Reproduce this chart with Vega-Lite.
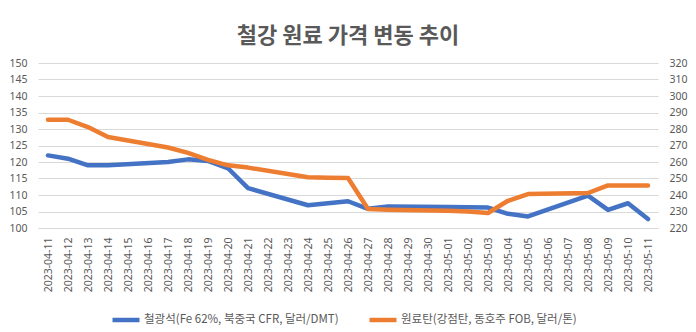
{
  "$schema": "https://vega.github.io/schema/vega-lite/v6.json",
  "width": 620,
  "height": 165,
  "autosize": {"type": "none"},
  "padding": {"left": 38, "top": 63, "right": 38, "bottom": 104},
  "background": "white",
  "title": {"text": "철강 원료 가격 변동 추이", "font": "Noto Sans CJK KR", "fontSize": 22, "fontWeight": "bold", "color": "#595959", "anchor": "middle", "offset": 10},
  "config": {"view": {"stroke": null}},
  "datasets": {
    "prices": [
      {"date": "2023-04-11", "series": "철광석(Fe 62%, 북중국 CFR, 달러/DMT)", "value": 122.0},
      {"date": "2023-04-12", "series": "철광석(Fe 62%, 북중국 CFR, 달러/DMT)", "value": 121.0},
      {"date": "2023-04-13", "series": "철광석(Fe 62%, 북중국 CFR, 달러/DMT)", "value": 119.0},
      {"date": "2023-04-14", "series": "철광석(Fe 62%, 북중국 CFR, 달러/DMT)", "value": 119.0},
      {"date": "2023-04-17", "series": "철광석(Fe 62%, 북중국 CFR, 달러/DMT)", "value": 120.0},
      {"date": "2023-04-18", "series": "철광석(Fe 62%, 북중국 CFR, 달러/DMT)", "value": 120.8},
      {"date": "2023-04-19", "series": "철광석(Fe 62%, 북중국 CFR, 달러/DMT)", "value": 120.3},
      {"date": "2023-04-20", "series": "철광석(Fe 62%, 북중국 CFR, 달러/DMT)", "value": 118.1},
      {"date": "2023-04-21", "series": "철광석(Fe 62%, 북중국 CFR, 달러/DMT)", "value": 112.1},
      {"date": "2023-04-24", "series": "철광석(Fe 62%, 북중국 CFR, 달러/DMT)", "value": 106.9},
      {"date": "2023-04-25", "series": "철광석(Fe 62%, 북중국 CFR, 달러/DMT)", "value": 107.5},
      {"date": "2023-04-26", "series": "철광석(Fe 62%, 북중국 CFR, 달러/DMT)", "value": 108.1},
      {"date": "2023-04-27", "series": "철광석(Fe 62%, 북중국 CFR, 달러/DMT)", "value": 105.8},
      {"date": "2023-04-28", "series": "철광석(Fe 62%, 북중국 CFR, 달러/DMT)", "value": 106.5},
      {"date": "2023-05-01", "series": "철광석(Fe 62%, 북중국 CFR, 달러/DMT)", "value": 106.4},
      {"date": "2023-05-02", "series": "철광석(Fe 62%, 북중국 CFR, 달러/DMT)", "value": 106.3},
      {"date": "2023-05-03", "series": "철광석(Fe 62%, 북중국 CFR, 달러/DMT)", "value": 106.2},
      {"date": "2023-05-04", "series": "철광석(Fe 62%, 북중국 CFR, 달러/DMT)", "value": 104.3},
      {"date": "2023-05-05", "series": "철광석(Fe 62%, 북중국 CFR, 달러/DMT)", "value": 103.5},
      {"date": "2023-05-08", "series": "철광석(Fe 62%, 북중국 CFR, 달러/DMT)", "value": 109.8},
      {"date": "2023-05-09", "series": "철광석(Fe 62%, 북중국 CFR, 달러/DMT)", "value": 105.5},
      {"date": "2023-05-10", "series": "철광석(Fe 62%, 북중국 CFR, 달러/DMT)", "value": 107.5},
      {"date": "2023-05-11", "series": "철광석(Fe 62%, 북중국 CFR, 달러/DMT)", "value": 102.7},
      {"date": "2023-04-11", "series": "원료탄(강점탄, 동호주 FOB, 달러/톤)", "value": 285.6},
      {"date": "2023-04-12", "series": "원료탄(강점탄, 동호주 FOB, 달러/톤)", "value": 285.6},
      {"date": "2023-04-13", "series": "원료탄(강점탄, 동호주 FOB, 달러/톤)", "value": 281.2},
      {"date": "2023-04-14", "series": "원료탄(강점탄, 동호주 FOB, 달러/톤)", "value": 275.2},
      {"date": "2023-04-17", "series": "원료탄(강점탄, 동호주 FOB, 달러/톤)", "value": 268.8},
      {"date": "2023-04-18", "series": "원료탄(강점탄, 동호주 FOB, 달러/톤)", "value": 265.5},
      {"date": "2023-04-19", "series": "원료탄(강점탄, 동호주 FOB, 달러/톤)", "value": 261.3},
      {"date": "2023-04-20", "series": "원료탄(강점탄, 동호주 FOB, 달러/톤)", "value": 258.0},
      {"date": "2023-04-21", "series": "원료탄(강점탄, 동호주 FOB, 달러/톤)", "value": 256.6},
      {"date": "2023-04-24", "series": "원료탄(강점탄, 동호주 FOB, 달러/톤)", "value": 250.7},
      {"date": "2023-04-25", "series": "원료탄(강점탄, 동호주 FOB, 달러/톤)", "value": 250.5},
      {"date": "2023-04-26", "series": "원료탄(강점탄, 동호주 FOB, 달러/톤)", "value": 250.3},
      {"date": "2023-04-27", "series": "원료탄(강점탄, 동호주 FOB, 달러/톤)", "value": 231.5},
      {"date": "2023-04-28", "series": "원료탄(강점탄, 동호주 FOB, 달러/톤)", "value": 231.1},
      {"date": "2023-05-01", "series": "원료탄(강점탄, 동호주 FOB, 달러/톤)", "value": 230.5},
      {"date": "2023-05-02", "series": "원료탄(강점탄, 동호주 FOB, 달러/톤)", "value": 230.0},
      {"date": "2023-05-03", "series": "원료탄(강점탄, 동호주 FOB, 달러/톤)", "value": 229.1},
      {"date": "2023-05-04", "series": "원료탄(강점탄, 동호주 FOB, 달러/톤)", "value": 236.5},
      {"date": "2023-05-05", "series": "원료탄(강점탄, 동호주 FOB, 달러/톤)", "value": 240.6},
      {"date": "2023-05-08", "series": "원료탄(강점탄, 동호주 FOB, 달러/톤)", "value": 241.2},
      {"date": "2023-05-09", "series": "원료탄(강점탄, 동호주 FOB, 달러/톤)", "value": 245.8},
      {"date": "2023-05-10", "series": "원료탄(강점탄, 동호주 FOB, 달러/톤)", "value": 245.8},
      {"date": "2023-05-11", "series": "원료탄(강점탄, 동호주 FOB, 달러/톤)", "value": 245.8}
    ]
  },
  "data": {"name": "prices"},
  "encoding": {
    "x": {
      "field": "date",
      "type": "ordinal",
      "sort": null,
      "scale": {
        "type": "point",
        "padding": 0.5,
        "domain": ["2023-04-11", "2023-04-12", "2023-04-13", "2023-04-14", "2023-04-15", "2023-04-16", "2023-04-17", "2023-04-18", "2023-04-19", "2023-04-20", "2023-04-21", "2023-04-22", "2023-04-23", "2023-04-24", "2023-04-25", "2023-04-26", "2023-04-27", "2023-04-28", "2023-04-29", "2023-04-30", "2023-05-01", "2023-05-02", "2023-05-03", "2023-05-04", "2023-05-05", "2023-05-06", "2023-05-07", "2023-05-08", "2023-05-09", "2023-05-10", "2023-05-11"]
      },
      "axis": {"title": null, "labelAngle": -90, "labelFont": "Noto Sans", "labelFontSize": 10.5, "labelColor": "#595959", "ticks": false, "domainColor": "#D9D9D9", "labelPadding": 9, "grid": false}
    },
    "color": {
      "field": "series",
      "type": "nominal",
      "scale": {"domain": ["철광석(Fe 62%, 북중국 CFR, 달러/DMT)", "원료탄(강점탄, 동호주 FOB, 달러/톤)"], "range": ["#4472C4", "#ED7D31"]},
      "legend": {"orient": "none", "legendX": 72, "legendY": 241, "direction": "horizontal", "title": null, "symbolType": "stroke", "symbolStrokeWidth": 4.5, "symbolSize": 729, "labelFontSize": 11.5, "labelColor": "#595959", "labelFont": "Noto Sans CJK KR", "labelLimit": 0, "columnPadding": 21, "labelOffset": 2}
    }
  },
  "layer": [
    {
      "transform": [{"filter": "datum.series === '철광석(Fe 62%, 북중국 CFR, 달러/DMT)'"}],
      "mark": {"type": "line", "strokeWidth": 4.5, "strokeJoin": "round", "strokeCap": "round"},
      "encoding": {
        "y": {
          "field": "value",
          "type": "quantitative",
          "scale": {"domain": [100, 150], "nice": false, "zero": false},
          "axis": {"title": null, "orient": "left", "values": [100, 105, 110, 115, 120, 125, 130, 135, 140, 145, 150], "grid": true, "gridColor": "#D9D9D9", "domain": false, "ticks": false, "labelPadding": 11, "labelFont": "Noto Sans", "labelFontSize": 10.5, "labelColor": "#595959"}
        }
      }
    },
    {
      "transform": [{"filter": "datum.series === '원료탄(강점탄, 동호주 FOB, 달러/톤)'"}],
      "mark": {"type": "line", "strokeWidth": 4.5, "strokeJoin": "round", "strokeCap": "round"},
      "encoding": {
        "y": {
          "field": "value",
          "type": "quantitative",
          "scale": {"domain": [220, 320], "nice": false, "zero": false},
          "axis": {"title": null, "orient": "right", "values": [220, 230, 240, 250, 260, 270, 280, 290, 300, 310, 320], "grid": false, "domain": false, "ticks": false, "labelPadding": 11, "labelFont": "Noto Sans", "labelFontSize": 10.5, "labelColor": "#595959"}
        }
      }
    }
  ],
  "resolve": {"scale": {"y": "independent"}}
}
